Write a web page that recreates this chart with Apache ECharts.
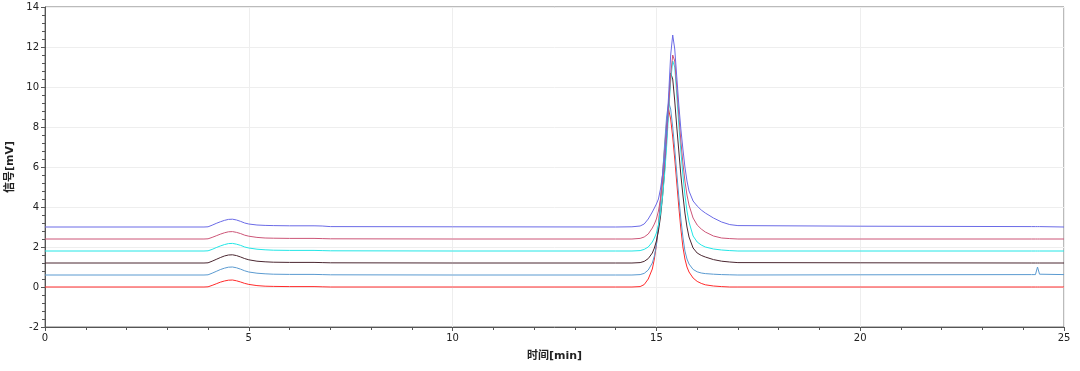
<!DOCTYPE html>
<html>
<head>
<meta charset="utf-8">
<script src="https://cdn.jsdelivr.net/npm/echarts@6/dist/echarts.min.js"></script>
<style>html,body{margin:0;padding:0;background:#fff}#c{width:1080px;height:371px}</style>
</head>
<body>
<div id="c"></div>
<script>
// time axis (min)
const times = [0, 3.9, 4.0, 4.1, 4.2, 4.3, 4.4, 4.5, 4.6, 4.7, 4.8, 4.9, 5.0, 5.2, 5.4, 5.6, 6.0, 6.6, 6.8, 7.0, 10.0,
  14.0, 14.4, 14.6, 14.7, 14.8, 14.9, 14.95, 15.0, 15.05, 15.1, 15.15, 15.2, 15.25, 15.3, 15.35, 15.4, 15.45, 15.5,
  15.55, 15.6, 15.65, 15.7, 15.75, 15.8, 15.9, 16.0, 16.1, 16.2, 16.4, 16.6, 16.8, 17.0, 20.0, 24.2, 24.3, 24.35, 24.4, 25.0];

const redSignal = [0, 0, 0.01, 0.08, 0.16, 0.24, 0.3, 0.34, 0.35, 0.31, 0.25, 0.18, 0.13, 0.07, 0.04, 0.03, 0.02, 0.02, 0.01, 0, 0,
  0, 0, 0.02, 0.12, 0.4, 0.9, 1.4, 2.1, 3.1, 4.3, 5.6, 6.9, 8.2, 8.88, 8.4, 7.5, 6.4, 5.2,
  4.0, 2.9, 2.0, 1.4, 1.0, 0.75, 0.45, 0.28, 0.18, 0.11, 0.05, 0.02, 0, 0, 0, 0, 0, 0, 0, 0];

const steelSignal = [0.6, 0.6, 0.61, 0.69, 0.78, 0.87, 0.94, 0.99, 1.0, 0.96, 0.89, 0.81, 0.75, 0.69, 0.66, 0.64, 0.63, 0.63, 0.62, 0.61, 0.6,
  0.6, 0.6, 0.62, 0.68, 0.85, 1.2, 1.55, 2.1, 3.0, 4.2, 5.6, 7.1, 8.5, 9.25, 8.9, 8.0, 6.9, 5.7,
  4.5, 3.4, 2.5, 1.8, 1.4, 1.15, 0.88, 0.76, 0.7, 0.67, 0.64, 0.62, 0.61, 0.6, 0.61, 0.62, 0.62, 1.0, 0.64, 0.62];

const blackSignal = [1.2, 1.2, 1.21, 1.29, 1.38, 1.47, 1.55, 1.6, 1.61, 1.57, 1.5, 1.42, 1.36, 1.29, 1.26, 1.24, 1.23, 1.23, 1.22, 1.21, 1.2,
  1.2, 1.2, 1.22, 1.28, 1.42, 1.7, 1.95, 2.3, 2.8, 3.5, 4.5, 5.8, 7.4, 9.2, 10.7, 10.4, 9.3, 8.0,
  6.8, 5.6, 4.6, 3.7, 3.0, 2.5, 1.95, 1.7, 1.58, 1.5, 1.37, 1.29, 1.25, 1.22, 1.21, 1.2, 1.2, 1.2, 1.2, 1.2];

const cyanSignal = [1.8, 1.8, 1.81, 1.88, 1.97, 2.05, 2.12, 2.17, 2.18, 2.14, 2.08, 2.0, 1.95, 1.89, 1.86, 1.84, 1.83, 1.83, 1.82, 1.81, 1.8,
  1.8, 1.8, 1.82, 1.88, 2.0, 2.25, 2.45, 2.7, 3.1, 3.7, 4.5, 5.6, 7.0, 8.7, 10.3, 11.3, 11.0, 9.6,
  8.1, 6.8, 5.6, 4.6, 3.8, 3.25, 2.55, 2.25, 2.1, 2.0, 1.9, 1.85, 1.82, 1.8, 1.8, 1.8, 1.8, 1.8, 1.8, 1.8];

const pinkSignal = [2.4, 2.4, 2.41, 2.48, 2.56, 2.64, 2.71, 2.76, 2.77, 2.73, 2.67, 2.59, 2.54, 2.48, 2.45, 2.44, 2.43, 2.43, 2.42, 2.41, 2.4,
  2.4, 2.4, 2.43, 2.5, 2.65, 2.95, 3.15, 3.4, 3.8, 4.4, 5.2, 6.2, 7.5, 9.0, 10.6, 11.6, 11.3, 10.0,
  8.6, 7.3, 6.2, 5.3, 4.6, 4.1, 3.45, 3.1, 2.9, 2.75, 2.55, 2.45, 2.42, 2.4, 2.4, 2.4, 2.4, 2.4, 2.4, 2.4];

const blueSignal = [3.0, 3.0, 3.01, 3.09, 3.18, 3.26, 3.33, 3.38, 3.39, 3.35, 3.28, 3.2, 3.15, 3.1, 3.08, 3.07, 3.06, 3.06, 3.05, 3.02, 3.01,
  3.0, 3.01, 3.05, 3.15, 3.4, 3.75, 3.95, 4.15, 4.4, 4.9, 5.6, 6.4, 7.8, 9.6, 11.6, 12.6, 11.9, 10.5,
  9.1, 7.9, 6.9, 6.0, 5.3, 4.8, 4.3, 4.05, 3.85, 3.7, 3.45, 3.25, 3.12, 3.07, 3.04, 3.02, 3.02, 3.02, 3.02, 3.0];

const seriesDefs = [
  { name: 'S1', values: redSignal, color: '#ff2a2a' },
  { name: 'S2', values: steelSignal, color: '#5a9ad0' },
  { name: 'S3', values: blackSignal, color: '#4a2630' },
  { name: 'S4', values: cyanSignal, color: '#22e6e6' },
  { name: 'S5', values: pinkSignal, color: '#cc5577' },
  { name: 'S6', values: blueSignal, color: '#6a6ae6' }
];

const xTicks = { min: 0, max: 25, interval: 5 };
const yTicks = { min: -2, max: 14, interval: 2 };

const chart = echarts.init(document.getElementById('c'), null, { renderer: 'canvas' });
const labelFont = { fontFamily: 'DejaVu Sans, sans-serif', fontSize: 10, color: '#222' };
const nameFont = { fontFamily: 'DejaVu Sans, "Noto Sans CJK SC", sans-serif', fontSize: 11, fontWeight: 'bold', color: '#222' };

chart.setOption({
  animation: false,
  grid: { left: 45, right: 16, top: 7, bottom: 44, show: true, borderColor: '#777', borderWidth: 1,
          containLabel: false, outerBoundsMode: 'none' },
  xAxis: {
    type: 'value', min: xTicks.min, max: xTicks.max, interval: xTicks.interval,
    name: '时间[min]', nameLocation: 'middle', nameGap: 24, nameTextStyle: nameFont,
    axisLine: { show: true, onZero: false, lineStyle: { color: '#555', width: 1 } },
    axisTick: { show: true, length: 4, lineStyle: { color: '#555' } },
    minorTick: { show: true, splitNumber: 5, length: 3, lineStyle: { color: '#555' } },
    axisLabel: Object.assign({ margin: 6 }, labelFont),
    splitLine: { show: true, lineStyle: { color: '#eeeeee', width: 1 } }
  },
  yAxis: {
    type: 'value', min: yTicks.min, max: yTicks.max, interval: yTicks.interval,
    name: '信号[mV]', nameLocation: 'middle', nameGap: 24, nameRotate: 90, nameTextStyle: nameFont,
    axisLine: { show: true, onZero: false, lineStyle: { color: '#555', width: 1 } },
    axisTick: { show: true, length: 4, lineStyle: { color: '#555' } },
    minorTick: { show: true, splitNumber: 5, length: 3, lineStyle: { color: '#555' } },
    axisLabel: Object.assign({ margin: 6 }, labelFont),
    splitLine: { show: true, lineStyle: { color: '#eeeeee', width: 1 } }
  },
  series: seriesDefs.map(s => ({
    name: s.name,
    type: 'line',
    showSymbol: false,
    symbol: 'none',
    smooth: false,
    lineStyle: { width: 1, color: s.color },
    itemStyle: { color: s.color },
    data: times.map((t, i) => [t, s.values[i]])
  }))
});
</script>
</body>
</html>
